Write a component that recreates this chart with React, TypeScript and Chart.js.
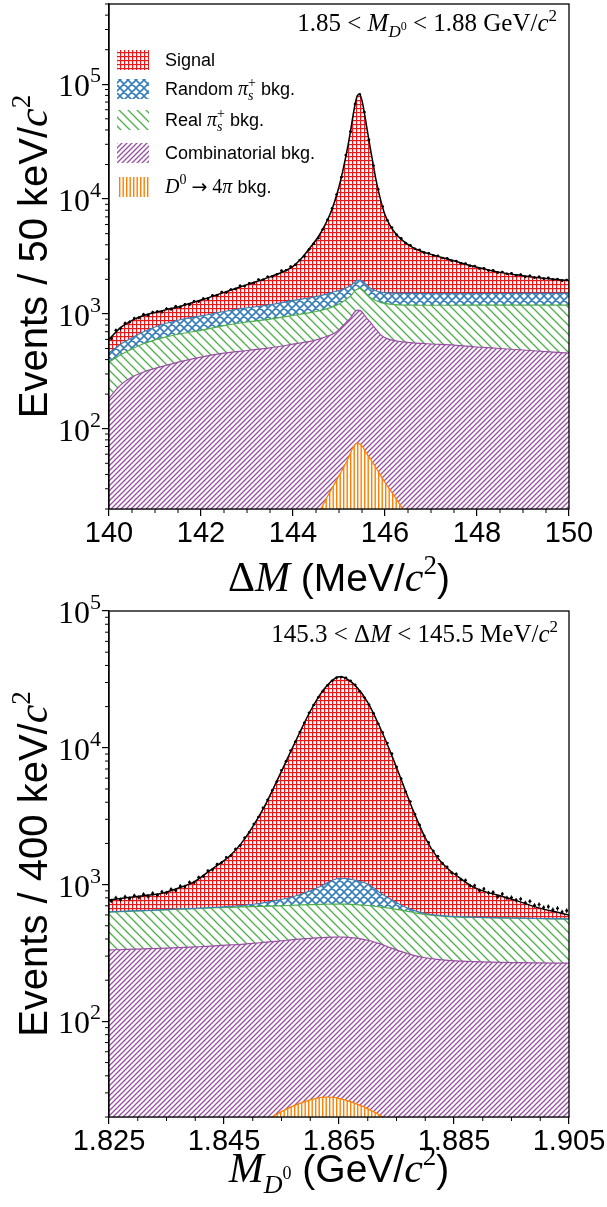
import React, { useEffect, useRef } from 'react';
import { Chart, registerables } from 'chart.js';

Chart.register(...registerables);

// ---------------- upper panel: Delta M (MeV/c^2) ----------------
const dmGrid = [140.0, 140.25, 140.5, 140.75, 141.0, 141.25, 141.5, 142.0, 142.5, 143.0, 143.5, 144.0, 144.2, 144.4, 144.55, 144.7, 144.8, 144.9, 145.0, 145.1, 145.2, 145.25, 145.3, 145.35, 145.4, 145.45, 145.5, 145.55, 145.6, 145.7, 145.75, 145.8, 145.9, 146.0, 146.1, 146.2, 146.4, 146.6, 146.8, 147.0, 147.5, 148.0, 148.5, 149.0, 149.5, 150.0];
const dmCombinatorial = [185, 240, 282, 312, 335, 357, 380, 421, 455, 480, 507, 545, 562, 580, 600, 630, 652, 680, 730, 800, 880, 920, 990, 1050, 1080, 1075, 1040, 980, 920, 830, 780, 740, 660, 620, 600, 585, 570, 560, 553, 547, 535, 515, 500, 485, 470, 456];
const dmRealPis = [380, 440, 495, 550, 595, 630, 665, 720, 790, 850, 900, 970, 1000, 1030, 1060, 1100, 1130, 1170, 1220, 1290, 1380, 1430, 1510, 1600, 1650, 1670, 1640, 1570, 1480, 1370, 1340, 1310, 1260, 1235, 1215, 1205, 1195, 1192, 1190, 1190, 1190, 1191, 1192, 1193, 1194, 1195];
const dmRandomPis = [456, 545, 620, 700, 770, 830, 880, 960, 1050, 1130, 1200, 1310, 1350, 1390, 1430, 1480, 1520, 1560, 1600, 1650, 1720, 1760, 1830, 1910, 1960, 1970, 1940, 1870, 1780, 1660, 1620, 1590, 1550, 1530, 1520, 1515, 1510, 1508, 1506, 1505, 1505, 1505, 1506, 1508, 1509, 1510];
const dmTotalFit = [600, 760, 880, 970, 1030, 1090, 1150, 1320, 1540, 1800, 2100, 2600, 3100, 3900, 4700, 6000, 7300, 9400, 12800, 19000, 30000, 39000, 52000, 67000, 80000, 82000, 72000, 57000, 43000, 25000, 19500, 15000, 10000, 7300, 6000, 5200, 4300, 3800, 3500, 3300, 2900, 2550, 2300, 2150, 2030, 1950];
const dmD4piX = [144.3, 144.4, 144.6, 144.8, 145.0, 145.2, 145.3, 145.4, 145.5, 145.6, 145.8, 146.0, 146.2, 146.4, 146.5];
const dmD4pi = [14, 16, 20, 28, 39, 55, 68, 75, 71, 61, 46, 34, 26, 19.6, 17];
const dmBinStart = 140;
const dmBinWidth = 0.1;
const dmCounts = [610, 720, 745, 830, 850, 915, 925, 990, 975, 1035, 1050, 1040, 1110, 1100, 1165, 1150, 1210, 1205, 1290, 1285, 1360, 1355, 1450, 1455, 1550, 1540, 1630, 1650, 1760, 1750, 1850, 1860, 1990, 1980, 2110, 2120, 2210, 2380, 2400, 2580, 2680, 2950, 3170, 3650, 4080, 4560, 5450, 6600, 8300, 10950, 15500, 24200, 38800, 67300, 81800, 57200, 32800, 19600, 12200, 8600, 6550, 5650, 4900, 4560, 4150, 3960, 3690, 3610, 3420, 3380, 3230, 3210, 3070, 3050, 2900, 2890, 2760, 2750, 2620, 2610, 2490, 2500, 2390, 2400, 2290, 2320, 2230, 2260, 2170, 2200, 2110, 2150, 2070, 2110, 2030, 2060, 1990, 2010, 1950, 1975];
const dmXTicks = [140, 142, 144, 146, 148, 150];
const dmYTicks = [1e2, 1e3, 1e4, 1e5];

// ---------------- lower panel: M(D0) (GeV/c^2) ----------------
const mdGrid = [1.825, 1.828, 1.831, 1.834, 1.837, 1.840, 1.842, 1.844, 1.846, 1.848, 1.850, 1.852, 1.854, 1.856, 1.858, 1.860, 1.862, 1.864, 1.865, 1.866, 1.868, 1.870, 1.872, 1.874, 1.876, 1.878, 1.880, 1.882, 1.884, 1.886, 1.888, 1.890, 1.893, 1.896, 1.899, 1.902, 1.905];
const mdCombinatorial = [333, 336, 339, 342, 346, 350, 354, 358, 362, 366, 372, 378, 385, 392, 399, 405, 410, 413, 414, 413, 406, 392, 370, 345, 322, 304, 292, 284, 279, 276, 274, 272, 270, 269, 268, 267, 267];
const mdRealPis = [630, 637, 644, 652, 660, 667, 672, 677, 682, 686, 690, 694, 698, 703, 708, 713, 717, 720, 720, 719, 713, 703, 688, 670, 648, 625, 605, 592, 584, 579, 576, 574, 571, 568, 565, 562, 560];
const mdRandomPis = [632, 639, 646, 654, 663, 671, 677, 684, 692, 703, 718, 738, 763, 795, 840, 900, 980, 1080, 1110, 1110, 1070, 1010, 880, 780, 700, 648, 615, 598, 588, 582, 578, 576, 572, 569, 566, 563, 561];
const mdTotalFit = [770, 800, 830, 860, 940, 1060, 1220, 1400, 1620, 2000, 2650, 3700, 5500, 8300, 12500, 18500, 25500, 31500, 33000, 32500, 28000, 21500, 14500, 9200, 5600, 3400, 2200, 1600, 1300, 1120, 980, 900, 830, 760, 690, 640, 600];
const mdD4piX = [1.849, 1.851, 1.853, 1.855, 1.857, 1.859, 1.861, 1.863, 1.865, 1.867, 1.869, 1.871, 1.873, 1.875, 1.877];
const mdD4pi = [15.2, 17.4, 19.6, 21.9, 24.0, 25.9, 27.4, 28.0, 27.4, 25.9, 24.0, 21.9, 19.6, 17.4, 15.2];
const mdBinStart = 1.825;
const mdBinWidth = 0.0008;
const mdCounts = [760, 800, 775, 815, 790, 830, 805, 850, 820, 865, 835, 885, 870, 925, 905, 975, 965, 1040, 1035, 1130, 1150, 1260, 1285, 1410, 1450, 1580, 1630, 1820, 1930, 2200, 2410, 2770, 3120, 3640, 4170, 4890, 5660, 6850, 7960, 9550, 11050, 13050, 15250, 18050, 20550, 23350, 25950, 28600, 30900, 32600, 32900, 32500, 30900, 28900, 25900, 23300, 20700, 17900, 15000, 12950, 10850, 9060, 7250, 5950, 4760, 4050, 3270, 2730, 2270, 2030, 1760, 1610, 1430, 1345, 1220, 1195, 1090, 1075, 980, 985, 905, 930, 870, 880, 815, 855, 800, 805, 770, 785, 735, 755, 705, 715, 680, 690, 655, 670, 630, 645];
const mdXTicks = [1.825, 1.845, 1.865, 1.885, 1.905];
const mdYTicks = [1e2, 1e3, 1e4, 1e5];

// ---------------- styling ----------------
const SANS = '"Liberation Sans", Arial, sans-serif';
const SERIF = '"Liberation Serif", "DejaVu Serif", serif';
const ARROW = '"DejaVu Sans", sans-serif';
const COL = { signal: '#e41a1c', random: '#377eb8', real: '#4daf4a', comb: '#984ea3', d4pi: '#ff7f00' };

type Seg = { t: string; f: string; dy?: number; noAdv?: boolean };
const fnt = (size: number, fam: string, style = '') => `${style} ${size}px ${fam}`.trim();

function drawRich(ctx: CanvasRenderingContext2D, segs: Seg[], x: number, y: number, align: string) {
  let w = 0;
  for (const s of segs) {
    if (s.noAdv) continue;
    ctx.font = s.f;
    w += ctx.measureText(s.t).width;
  }
  let cx = align === 'left' ? x : align === 'right' ? x - w : x - w / 2;
  ctx.textAlign = 'left';
  ctx.textBaseline = 'alphabetic';
  for (const s of segs) {
    ctx.font = s.f;
    ctx.fillText(s.t, cx, y + (s.dy || 0));
    if (!s.noAdv) cx += ctx.measureText(s.t).width;
  }
}

function makePattern(kind: string, color: string): CanvasPattern {
  const sizes: any = { grid: 4, cross: 8, back: 9, fwd: 5, vert: 7 };
  const s = sizes[kind];
  const c = document.createElement('canvas');
  c.width = s;
  c.height = s;
  const g = c.getContext('2d') as CanvasRenderingContext2D;
  g.fillStyle = '#fff';
  g.fillRect(0, 0, s, s);
  g.strokeStyle = color;
  g.fillStyle = color;
  g.lineWidth = 1.3;
  g.beginPath();
  if (kind === 'grid') {
    g.fillRect(0, 0, s, 1.2);
    g.fillRect(0, 0, 1.2, s);
  } else if (kind === 'vert') {
    g.fillRect(0, 0, 1.4, s);
    g.fillRect(3.5, 0, 1.4, s);
  } else {
    if (kind === 'fwd' || kind === 'cross') {
      g.moveTo(0, s); g.lineTo(s, 0);
      g.moveTo(-1, 1); g.lineTo(1, -1);
      g.moveTo(s - 1, s + 1); g.lineTo(s + 1, s - 1);
    }
    if (kind === 'back' || kind === 'cross') {
      g.moveTo(0, 0); g.lineTo(s, s);
      g.moveTo(-1, s - 1); g.lineTo(1, s + 1);
      g.moveTo(s - 1, -1); g.lineTo(s + 1, 1);
    }
    g.lineWidth = kind === 'cross' ? 1.6 : 1.3;
    g.stroke();
  }
  return g.createPattern(c, 'repeat') as CanvasPattern;
}

const S18 = fnt(18, SANS);
const legendRows: { key: string; segs: Seg[] }[] = [
  { key: 'signal', segs: [{ t: 'Signal', f: S18 }] },
  { key: 'random', segs: [{ t: 'Random ', f: S18 }, { t: 'π', f: fnt(20, SERIF, 'italic') }, { t: 's', f: fnt(14, SERIF, 'italic'), dy: 5, noAdv: true }, { t: '+', f: fnt(14, SERIF), dy: -8 }, { t: ' bkg.', f: S18 }] },
  { key: 'real', segs: [{ t: 'Real ', f: S18 }, { t: 'π', f: fnt(20, SERIF, 'italic') }, { t: 's', f: fnt(14, SERIF, 'italic'), dy: 5, noAdv: true }, { t: '+', f: fnt(14, SERIF), dy: -8 }, { t: ' bkg.', f: S18 }] },
  { key: 'comb', segs: [{ t: 'Combinatorial bkg.', f: S18 }] },
  { key: 'd4pi', segs: [{ t: 'D', f: fnt(20, SERIF, 'italic') }, { t: '0', f: fnt(14, SERIF), dy: -9 }, { t: ' ', f: fnt(20, SERIF) }, { t: '→', f: fnt(19, ARROW) }, { t: ' 4', f: fnt(20, SERIF) }, { t: 'π', f: fnt(20, SERIF, 'italic') }, { t: ' bkg.', f: S18 }] },
];
const legendRowY = [60, 89, 120, 153, 187];

const TITLE = 40;
const NOTE = 25;
const upperCfg = {
  grid: dmGrid, comb: dmCombinatorial, real: dmRealPis, random: dmRandomPis, total: dmTotalFit,
  d4piX: dmD4piX, d4pi: dmD4pi, binStart: dmBinStart, binWidth: dmBinWidth, counts: dmCounts,
  xMin: 140, xMax: 150, yMin: 20, yMax: 5e5, xTicks: dmXTicks, yTicks: dmYTicks, xMinorStep: 0.5, decimals: 0,
  top: 0, canvasH: 605, padTop: 3, xAxisH: 96, xTitleY: 591, legend: true,
  xTitle: [{ t: 'Δ', f: fnt(TITLE + 2, SERIF) }, { t: 'M', f: fnt(TITLE + 2, SERIF, 'italic') }, { t: ' (MeV/', f: fnt(TITLE - 1, SANS) }, { t: 'c', f: fnt(TITLE + 2, SERIF, 'italic') }, { t: '2', f: fnt(27, SERIF), dy: -17 }, { t: ')', f: fnt(TITLE - 1, SANS) }] as Seg[],
  yTitle: [{ t: 'Events / 50 keV/', f: fnt(TITLE, SANS) }, { t: 'c', f: fnt(TITLE + 2, SERIF, 'italic') }, { t: '2', f: fnt(27, SERIF), dy: -17 }] as Seg[],
  note: [{ t: '1.85 < ', f: fnt(NOTE, SERIF) }, { t: 'M', f: fnt(NOTE, SERIF, 'italic') }, { t: 'D', f: fnt(17, SERIF, 'italic'), dy: 6 }, { t: '0', f: fnt(12, SERIF), dy: -1 }, { t: ' < 1.88 GeV/', f: fnt(NOTE, SERIF) }, { t: 'c', f: fnt(NOTE, SERIF, 'italic') }, { t: '2', f: fnt(17, SERIF), dy: -10 }] as Seg[],
  noteX: 557, noteY: 31,
};
const lowerCfg = {
  grid: mdGrid, comb: mdCombinatorial, real: mdRealPis, random: mdRandomPis, total: mdTotalFit,
  d4piX: mdD4piX, d4pi: mdD4pi, binStart: mdBinStart, binWidth: mdBinWidth, counts: mdCounts,
  xMin: 1.825, xMax: 1.905, yMin: 20, yMax: 1e5, xTicks: mdXTicks, yTicks: mdYTicks, xMinorStep: 0.005, decimals: 3,
  top: 580, canvasH: 627, padTop: 31, xAxisH: 90, xTitleY: 602, legend: false,
  xTitle: [{ t: 'M', f: fnt(TITLE + 2, SERIF, 'italic') }, { t: 'D', f: fnt(26, SERIF, 'italic'), dy: 11 }, { t: '0', f: fnt(18, SERIF), dy: -3 }, { t: ' (GeV/', f: fnt(TITLE - 1, SANS) }, { t: 'c', f: fnt(TITLE + 2, SERIF, 'italic') }, { t: '2', f: fnt(27, SERIF), dy: -17 }, { t: ')', f: fnt(TITLE - 1, SANS) }] as Seg[],
  yTitle: [{ t: 'Events / 400 keV/', f: fnt(TITLE, SANS) }, { t: 'c', f: fnt(TITLE + 2, SERIF, 'italic') }, { t: '2', f: fnt(27, SERIF), dy: -17 }] as Seg[],
  note: [{ t: '145.3 < Δ', f: fnt(NOTE, SERIF) }, { t: 'M', f: fnt(NOTE, SERIF, 'italic') }, { t: ' < 145.5 MeV/', f: fnt(NOTE, SERIF) }, { t: 'c', f: fnt(NOTE, SERIF, 'italic') }, { t: '2', f: fnt(17, SERIF), dy: -10 }] as Seg[],
  noteX: 558, noteY: 62,
};

function makeDecor(cfg: any, pats: any) {
  return {
    id: 'decor',
    afterDatasetsDraw(chart: any) {
      const { ctx, scales } = chart;
      const x = scales.x, y = scales.y;
      ctx.save();
      ctx.strokeStyle = '#000';
      ctx.lineWidth = 1;
      ctx.beginPath();
      cfg.counts.forEach((n: number, i: number) => {
        const xv = cfg.binStart + (i + 0.5) * cfg.binWidth;
        const e = Math.sqrt(n);
        const px = x.getPixelForValue(xv);
        ctx.moveTo(px, y.getPixelForValue(n - e));
        ctx.lineTo(px, y.getPixelForValue(n + e));
        const py = y.getPixelForValue(n);
        ctx.moveTo(x.getPixelForValue(xv - cfg.binWidth * 0.3), py);
        ctx.lineTo(x.getPixelForValue(xv + cfg.binWidth * 0.3), py);
      });
      ctx.stroke();
      ctx.restore();
    },
    afterDraw(chart: any) {
      const { ctx, chartArea: a, scales } = chart;
      const x = scales.x, y = scales.y;
      ctx.save();
      ctx.strokeStyle = '#000';
      ctx.lineWidth = 1.3;
      ctx.strokeRect(a.left, a.top, a.right - a.left, a.bottom - a.top);
      ctx.lineWidth = 1;
      ctx.beginPath();
      const nMinor = Math.round((cfg.xMax - cfg.xMin) / cfg.xMinorStep);
      for (let k = 0; k <= nMinor; k++) {
        const v = cfg.xMin + k * cfg.xMinorStep;
        if (cfg.xTicks.some((t: number) => Math.abs(t - v) < 1e-7)) continue;
        const px = x.getPixelForValue(v);
        ctx.moveTo(px, a.bottom);
        ctx.lineTo(px, a.bottom + 4);
      }
      for (let d = 1; d <= 5; d++) {
        for (let m = 2; m <= 9; m++) {
          const v = m * Math.pow(10, d);
          if (v < cfg.yMin || v > cfg.yMax) continue;
          const py = y.getPixelForValue(v);
          ctx.moveTo(a.left, py);
          ctx.lineTo(a.left - 4, py);
        }
      }
      ctx.stroke();
      ctx.fillStyle = '#000';
      cfg.yTicks.forEach((v: number) => {
        const py = y.getPixelForValue(v);
        const ex = Math.round(Math.log10(v));
        drawRich(ctx, [{ t: '10', f: fnt(32, SERIF) }, { t: String(ex), f: fnt(22, SERIF), dy: -14 }], 101, py + 12, 'right');
      });
      drawRich(ctx, cfg.xTitle, (a.left + a.right) / 2, cfg.xTitleY, 'center');
      ctx.save();
      ctx.translate(47, (a.top + a.bottom) / 2);
      ctx.rotate(-Math.PI / 2);
      drawRich(ctx, cfg.yTitle, 0, 0, 'center');
      ctx.restore();
      drawRich(ctx, cfg.note, cfg.noteX, cfg.noteY, 'right');
      if (cfg.legend) {
        legendRows.forEach((row, i) => {
          const cy = legendRowY[i];
          ctx.fillStyle = pats[row.key];
          ctx.fillRect(117, cy - 10, 32, 20);
          ctx.fillStyle = '#000';
          drawRich(ctx, row.segs, 165, cy + 6, 'left');
        });
      }
      ctx.restore();
    },
  };
}

function Panel({ cfg }: { cfg: any }) {
  const ref = useRef<HTMLCanvasElement>(null);
  useEffect(() => {
    const canvas = ref.current as HTMLCanvasElement;
    const pats: any = {
      signal: makePattern('grid', COL.signal),
      random: makePattern('cross', COL.random),
      real: makePattern('back', COL.real),
      comb: makePattern('fwd', COL.comb),
      d4pi: makePattern('vert', COL.d4pi),
    };
    const pts = (xs: number[], ys: number[]) => xs.map((v, i) => ({ x: v, y: ys[i] }));
    const band = { pointRadius: 0, borderWidth: 1.2, cubicInterpolationMode: 'monotone' as const };
    const chart = new Chart(canvas, {
      type: 'line',
      data: {
        datasets: [
          { ...band, label: 'Combinatorial bkg.', data: pts(cfg.grid, cfg.comb), borderColor: COL.comb, backgroundColor: pats.comb, fill: 'start', order: 5 },
          { ...band, label: 'Real bkg.', data: pts(cfg.grid, cfg.real), borderColor: COL.real, backgroundColor: pats.real, fill: '-1', order: 4 },
          { ...band, label: 'Random bkg.', data: pts(cfg.grid, cfg.random), borderColor: COL.random, backgroundColor: pats.random, fill: '-1', order: 3 },
          { ...band, label: 'Signal', data: pts(cfg.grid, cfg.total), borderColor: '#000', borderWidth: 1.5, backgroundColor: pats.signal, fill: '-1', order: 2 },
          { ...band, label: 'D0 to 4pi bkg.', data: pts(cfg.d4piX, cfg.d4pi), borderColor: COL.d4pi, backgroundColor: pats.d4pi, fill: 'start', order: 1 },
          {
            label: 'Data',
            data: cfg.counts.map((n: number, i: number) => ({ x: cfg.binStart + (i + 0.5) * cfg.binWidth, y: n })),
            showLine: false, pointRadius: 1.3, pointBackgroundColor: '#000', pointBorderWidth: 0, borderColor: '#000', fill: false, order: 0,
          },
        ],
      } as any,
      options: {
        responsive: false,
        animation: false,
        events: [],
        layout: { padding: { top: cfg.padTop, right: 38, left: 0, bottom: 0 } },
        plugins: { legend: { display: false }, tooltip: { enabled: false }, filler: { drawTime: 'beforeDatasetsDraw' } } as any,
        scales: {
          x: {
            type: 'linear', min: cfg.xMin, max: cfg.xMax,
            afterBuildTicks: (s: any) => { s.ticks = cfg.xTicks.map((v: number) => ({ value: v })); },
            afterFit: (s: any) => { s.height = cfg.xAxisH; },
            grid: { display: true, drawOnChartArea: false, tickLength: 7, color: '#000', lineWidth: 1.2 },
            border: { display: true, color: '#000', width: 1.3 },
            ticks: { color: '#000', font: { family: SANS, size: 29 }, padding: 1, maxRotation: 0, autoSkip: false, callback: (v: any) => Number(v).toFixed(cfg.decimals) },
          },
          y: {
            type: 'logarithmic', min: cfg.yMin, max: cfg.yMax,
            afterBuildTicks: (s: any) => { s.ticks = cfg.yTicks.map((v: number) => ({ value: v, major: true })); },
            afterFit: (s: any) => { s.width = 109; },
            grid: { display: true, drawOnChartArea: false, tickLength: 7, color: '#000', lineWidth: 1.2 },
            border: { display: true, color: '#000', width: 1.3 },
            ticks: { display: false },
          },
        } as any,
      },
      plugins: [makeDecor(cfg, pats)],
    });
    return () => chart.destroy();
  }, []);
  return (
    <canvas
      ref={ref}
      width={607}
      height={cfg.canvasH}
      style={{ position: 'absolute', left: 0, top: cfg.top, display: 'block', width: 607, height: cfg.canvasH }}
    />
  );
}

export default function App() {
  return (
    <div style={{ position: 'absolute', left: 0, top: 0, width: 607, height: 1207, background: '#fff', overflow: 'hidden' }}>
      <Panel cfg={upperCfg} />
      <Panel cfg={lowerCfg} />
    </div>
  );
}
